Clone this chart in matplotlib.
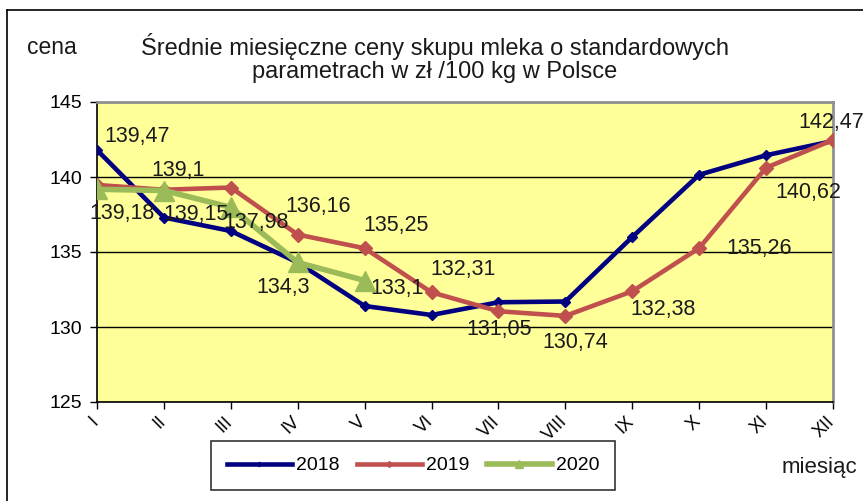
import matplotlib
matplotlib.use("Agg")
import matplotlib.pyplot as plt
import matplotlib.transforms as mtransforms
from matplotlib.lines import Line2D

plt.rcParams['font.family'] = ['Liberation Sans', 'DejaVu Sans']

months = ['I', 'II', 'III', 'IV', 'V', 'VI', 'VII', 'VIII', 'IX', 'X', 'XI', 'XII']
ceny_2018 = [141.8, 137.3, 136.4, 134.3, 131.4, 130.8, 131.65, 131.7, 136.0, 140.15, 141.45, 142.4]
ceny_2019 = [139.47, 139.15, 139.3, 136.16, 135.25, 132.31, 131.05, 130.74, 132.38, 135.26, 140.62, 142.47]
ceny_2020 = [139.18, 139.1, 137.98, 134.3, 133.1]

# label offsets in pixels (dx, dy) relative to the point
off_2019 = {0: (40, 48), 1: (32, -25), 3: (20, 28), 4: (31, 23), 5: (32, 23),
            6: (1, -18), 7: (10, -27), 8: (31, -18), 9: (60, 0), 10: (42, -25), 11: (-2, 17)}
off_2020 = {0: (25, -24), 1: (14, 20), 2: (25, -15), 3: (-15, -25), 4: (32, -8)}

fig = plt.figure(figsize=(8.63, 5.01), dpi=100)
ax = fig.add_axes([97 / 863, 1 - 402 / 501, (833 - 97) / 863, 300 / 501])
ax.set_facecolor('#FFFF99')

x = list(range(len(months)))
ax.plot(x, ceny_2018, color='#000080', lw=3.3, marker='D', ms=5.5, label='2018', zorder=3)
ax.plot(x, ceny_2019, color='#C0504D', lw=3.3, marker='D', ms=7.5, label='2019', zorder=4)
ax.plot(x[:len(ceny_2020)], ceny_2020, color='#9BBB59', lw=4, marker='^', ms=15, label='2020', zorder=5)

def fmt(v):
    return ('%g' % v).replace('.', ',')

for i, (dx, dy) in off_2019.items():
    ax.annotate(fmt(ceny_2019[i]), (x[i], ceny_2019[i]), xytext=(dx, dy), textcoords='offset pixels',
                ha='center', va='center', fontsize=15.5, color='#1a1a1a', zorder=6)
for i, (dx, dy) in off_2020.items():
    ax.annotate(fmt(ceny_2020[i]), (x[i], ceny_2020[i]), xytext=(dx, dy), textcoords='offset pixels',
                ha='center', va='center', fontsize=15.5, color='#1a1a1a', zorder=6)

ax.set_xlim(0, 11)
ax.set_ylim(125, 145)
ax.set_yticks([125, 130, 135, 140, 145])
ax.set_xticks(x)
ax.set_xticklabels(months, rotation=45, ha='right', fontsize=13)
ax.tick_params(axis='y', labelsize=14, direction='out', length=5, width=1, pad=5.5)
ax.tick_params(axis='x', direction='out', length=5, width=1, pad=3)
# nudge x tick labels a little to the right, as in the source chart
shift = mtransforms.ScaledTranslation(5 / 100, 0, fig.dpi_scale_trans)
for lbl in ax.get_xticklabels():
    lbl.set_transform(lbl.get_transform() + shift)
ax.yaxis.grid(True, color='black', lw=1)
ax.set_axisbelow(True)
for s in ['top', 'right']:
    ax.spines[s].set_color('#909090')
    ax.spines[s].set_linewidth(2)
for s in ['left', 'bottom']:
    ax.spines[s].set_color('black')
    ax.spines[s].set_linewidth(1.2)

fig.text(435 / 863, 1 - 46 / 501, 'Średnie miesięczne ceny skupu mleka o standardowych',
         ha='center', va='center', fontsize=17, color='#1a1a1a')
fig.text(435 / 863, 1 - 72 / 501, 'parametrach w zł /100 kg w Polsce',
         ha='center', va='center', fontsize=17, color='#1a1a1a')
fig.text(52 / 863, 1 - 48 / 501, 'cena', ha='center', va='center', fontsize=16.5, color='#1a1a1a')
fig.text(819 / 863, 1 - 468 / 501, 'miesiąc', ha='center', va='center', fontsize=16, color='#1a1a1a')

# outer chart frame
fig.add_artist(Line2D([7 / 863, 1], [1 - 10 / 501, 1 - 10 / 501], transform=fig.transFigure, color='black', lw=1.2))
fig.add_artist(Line2D([7 / 863, 7 / 863], [0, 1 - 10 / 501], transform=fig.transFigure, color='black', lw=1.2))

leg = ax.legend(loc='center', bbox_to_anchor=(413 / 863, 1 - 465.5 / 501), bbox_transform=fig.transFigure,
                ncol=3, frameon=True, fancybox=False, edgecolor='black', fontsize=14,
                handlelength=3.35, handletextpad=0.2, columnspacing=0.9, borderpad=0.8,
                markerscale=0.4)
leg.get_frame().set_linewidth(1.2)

fig.savefig('out.png', dpi=100)
